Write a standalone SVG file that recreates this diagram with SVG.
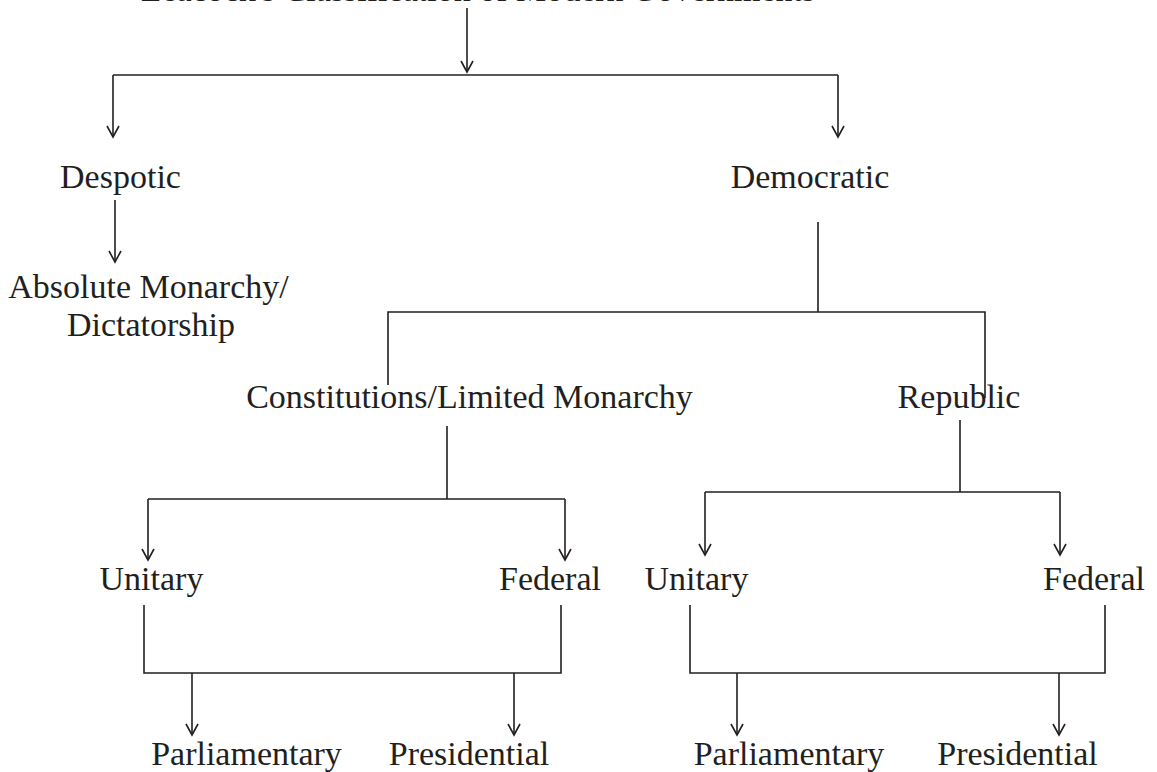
<svg xmlns="http://www.w3.org/2000/svg" width="1157" height="772" viewBox="0 0 1157 772">
<style>
text{font-family:"Liberation Serif","Times New Roman",serif;font-size:34px;fill:#231f20;text-anchor:middle}
.c path{fill:none;stroke:#231f20;stroke-width:1.6}
.a{marker-end:url(#ah)}
</style>
<defs>
<marker id="ah" markerUnits="userSpaceOnUse" viewBox="-13 -8 15 16" markerWidth="15" markerHeight="16" refX="0" refY="0" orient="auto">
<path d="M-11,-6 L0,0 L-11,6" fill="none" stroke="#231f20" stroke-width="1.6"/>
</marker>
</defs>
<rect width="1157" height="772" fill="#fff"/>
<g id="title"><text x="478" y="1">Leacock's Classification of Modern Governments</text></g>
<g id="despotic"><text x="120.5" y="188">Despotic</text></g>
<g id="democratic"><text x="810" y="188">Democratic</text></g>
<g id="absolute"><text x="148.5" y="298">Absolute Monarchy/</text><text x="151" y="336">Dictatorship</text></g>
<g id="constitutional"><text x="469.5" y="408">Constitutions/Limited Monarchy</text></g>
<g id="republic"><text x="959" y="408">Republic</text></g>
<g id="unitary1"><text x="151.5" y="590">Unitary</text></g>
<g id="federal1"><text x="550" y="590">Federal</text></g>
<g id="unitary2"><text x="696.5" y="590">Unitary</text></g>
<g id="federal2"><text x="1094" y="590">Federal</text></g>
<g id="parl1"><text x="246.5" y="765">Parliamentary</text></g>
<g id="pres1"><text x="469" y="765">Presidential</text></g>
<g id="parl2"><text x="789" y="765">Parliamentary</text></g>
<g id="pres2"><text x="1017.5" y="765">Presidential</text></g>
<g id="connectors" class="c">
<path class="a" d="M467 8 V72"/>
<path d="M113 75 H838"/>
<path class="a" d="M113 75 V137"/>
<path class="a" d="M838 75 V137"/>
<path class="a" d="M115 200 V262"/>
<path d="M818 222 V312 M388 385 V312 H985 V398"/>
<path d="M447 426 V499 M148 499 H565"/>
<path class="a" d="M148 499 V560"/>
<path class="a" d="M565 499 V560"/>
<path d="M960 420 V492 M705 492 H1060"/>
<path class="a" d="M705 492 V555"/>
<path class="a" d="M1060 492 V555"/>
<path d="M144 605 V673 H561 V605"/>
<path class="a" d="M192 673 V735"/>
<path class="a" d="M514 673 V735"/>
<path d="M690 605 V673 H1105 V605"/>
<path class="a" d="M737 673 V735"/>
<path class="a" d="M1059 673 V735"/>
</g>
</svg>
